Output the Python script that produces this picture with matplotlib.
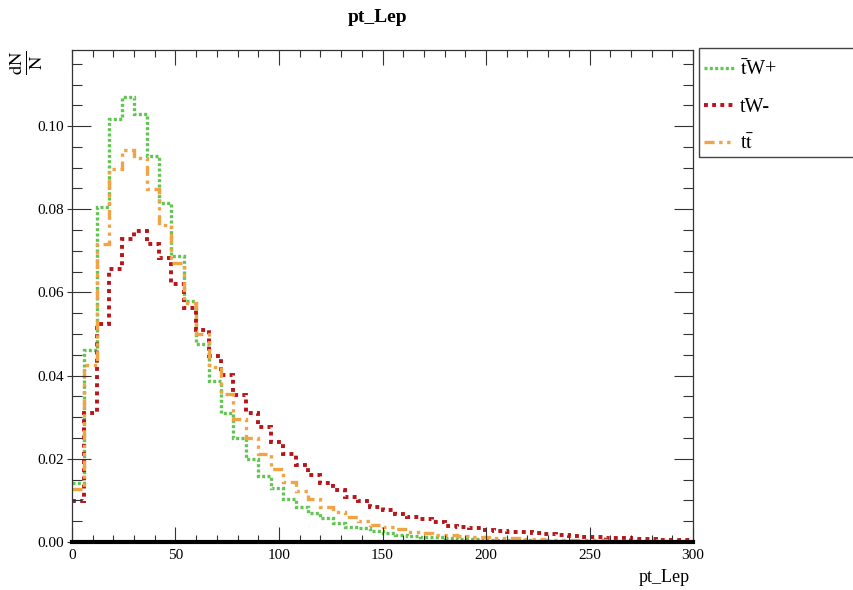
import numpy as np
import matplotlib
matplotlib.use("Agg")
import matplotlib.pyplot as plt
from matplotlib.patches import Rectangle
from matplotlib.lines import Line2D

plt.rcParams['font.family'] = ['Liberation Serif', 'DejaVu Serif']
plt.rcParams['mathtext.fontset'] = 'stix'

# ---- data ----
bin_edges = np.linspace(0, 300, 51)
labels = [r'$\bar{\mathrm{t}}$W+', 'tW-', r't$\bar{\mathrm{t}}$']
tbarW_plus = [0.0143, 0.0462, 0.0805, 0.1016, 0.1069, 0.1028, 0.0928, 0.0814, 0.0688, 0.0580,
              0.0475, 0.0386, 0.0310, 0.0251, 0.0200, 0.0159, 0.0130, 0.0103, 0.0085, 0.0069,
              0.0057, 0.0046, 0.0037, 0.0033, 0.0027, 0.0021, 0.0018, 0.0015, 0.0013, 0.0011,
              0.0009, 0.0008, 0.0007, 0.0006, 0.0005, 0.0004, 0.0004, 0.0003, 0.0003, 0.0002,
              0.0002, 0.0002, 0.0002, 0.0001, 0.0001, 0.0001, 0.0001, 0.0001, 0.0001, 0.0001]
tW_minus = [0.0099, 0.0309, 0.0524, 0.0657, 0.0728, 0.0748, 0.0716, 0.0682, 0.0620, 0.0562,
            0.0510, 0.0448, 0.0401, 0.0353, 0.0309, 0.0276, 0.0240, 0.0212, 0.0185, 0.0160,
            0.0143, 0.0124, 0.0109, 0.0099, 0.0085, 0.0077, 0.0067, 0.0061, 0.0055, 0.0047,
            0.0039, 0.0037, 0.0033, 0.0030, 0.0027, 0.0025, 0.0023, 0.0021, 0.0019, 0.0017,
            0.0015, 0.0013, 0.0012, 0.0010, 0.0009, 0.0008, 0.0007, 0.0006, 0.0006, 0.0005]
ttbar = [0.0127, 0.0425, 0.0716, 0.0896, 0.0942, 0.0924, 0.0848, 0.0763, 0.0670, 0.0575,
         0.0500, 0.0420, 0.0355, 0.0296, 0.0251, 0.0211, 0.0175, 0.0145, 0.0122, 0.0103,
         0.0085, 0.0071, 0.0059, 0.0051, 0.0041, 0.0037, 0.0031, 0.0025, 0.0021, 0.0018,
         0.0017, 0.0015, 0.0013, 0.0012, 0.0010, 0.0009, 0.0008, 0.0007, 0.0006, 0.0005,
         0.0005, 0.0004, 0.0004, 0.0003, 0.0003, 0.0003, 0.0002, 0.0002, 0.0002, 0.0002]
x_ticks = [0, 50, 100, 150, 200, 250, 300]
y_ticks = [0.00, 0.02, 0.04, 0.06, 0.08, 0.10]

colors = ['#62c452', '#b8141a', '#f0a445']
styles = [(0, (0.9, 0.7)), (0, (1.0, 1.1)), (0, (3.0, 1.4, 1.0, 1.4, 1.0, 1.4))]
widths = [2.4, 2.8, 2.4]

W, H = 854, 590
fig = plt.figure(figsize=(W / 100, H / 100), dpi=100)
ax = fig.add_axes([72 / W, 1 - 542 / H, (693 - 72) / W, (542 - 50) / H])

series = [tbarW_plus, tW_minus, ttbar]
handles = []
for vals, c, ls, lw, lab in zip(series, colors, styles, widths, labels):
    ax.stairs(vals, bin_edges, color=c, linestyle=ls, linewidth=lw, baseline=None)
    handles.append(Line2D([], [], color=c, linestyle=ls, linewidth=lw, label=lab))

ax.set_xlim(0, 300)
ax.set_ylim(0, 0.1183)
ax.set_xticks(x_ticks)
ax.set_xticklabels([str(t) for t in x_ticks])
ax.set_yticks(y_ticks)
ax.set_yticklabels(['%.2f' % t for t in y_ticks])
ax.set_xticks(np.arange(0, 301, 10), minor=True)
ax.set_yticks(np.arange(0, 0.1183, 0.005), minor=True)

ax.tick_params(axis='both', which='both', direction='in', top=True, right=True,
               labelsize=11, width=0.8, color='#333333')
ax.tick_params(axis='x', which='major', length=10.5, pad=5)
ax.tick_params(axis='x', which='minor', length=5)
ax.tick_params(axis='y', which='major', length=14, pad=6)
ax.tick_params(axis='y', which='minor', length=7)
for s in ['left', 'right', 'top']:
    ax.spines[s].set_linewidth(0.9)
    ax.spines[s].set_color('#333333')
ax.spines['bottom'].set_linewidth(3.0)
ax.spines['bottom'].set_color('black')

# small outward part of the major y ticks
sec = ax.secondary_yaxis('left')
sec.set_yticks(y_ticks)
sec.tick_params(axis='y', which='major', direction='out', length=3.5, width=0.8,
                color='#333333', labelleft=False)
sec.tick_params(axis='y', which='minor', length=0)
sec.spines['left'].set_visible(False)

fig.text(378 / W, 1 - 18 / H, 'pt_Lep', ha='center', va='center',
         fontsize=14, fontweight='bold')
fig.text(690 / W, 1 - 578 / H, 'pt_Lep', ha='right', va='center', fontsize=13)
fig.text(26 / W, 1 - 63 / H, r'$\frac{\mathrm{dN}}{\mathrm{N}}$', ha='center',
         va='center', rotation=90, fontsize=19)

# legend box
fig.patches.append(Rectangle((699 / W, 1 - 157 / H), 200 / W, 109 / H,
                             transform=fig.transFigure, fill=False,
                             edgecolor='#444444', linewidth=1.0))
fig.legend(handles=handles, loc='upper left',
           bbox_to_anchor=(704 / W, 1 - 60 / H), frameon=False,
           fontsize=14.5, handlelength=1.5, handletextpad=0.3,
           labelspacing=0.9, borderaxespad=0, borderpad=0)

fig.savefig('out.png', dpi=100)
